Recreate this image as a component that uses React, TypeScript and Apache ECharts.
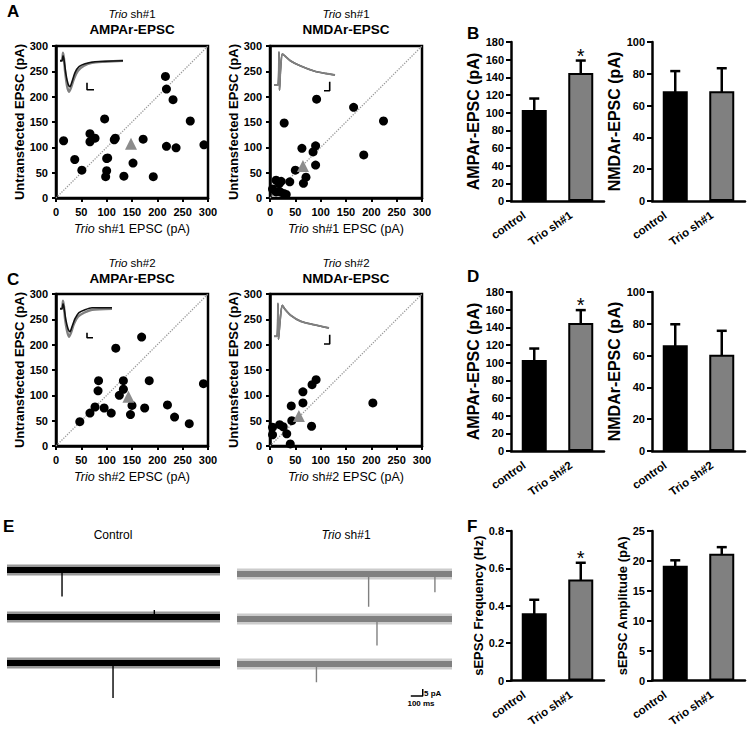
import React, { useEffect, useRef } from 'react';
import * as echarts from 'echarts';

// ---------------- DATA ----------------
// Scatter: [Trio shRNA EPSC (pA), Untransfected EPSC (pA)]
const A_AMPA_PTS = [[15,113],[37,76],[51,55],[67,127],[67,111],[77,118],[96,156],[98,42],[100,78],[100,54],[102,79],[115,115],[117,118],[134,43],[152,69],[172,116],[192,42],[216,240],[218,215],[218,102],[231,194],[237,99],[265,152],[292,105]];
const A_AMPA_MEAN = [148, 107];
const A_NMDA_PTS = [[5,18],[12,35],[18,28],[22,33],[12,12],[20,12],[27,9],[32,7],[28,148],[39,32],[50,55],[63,98],[66,29],[71,41],[85,91],[90,103],[90,65],[92,195],[165,179],[185,85],[224,152]];
const A_NMDA_MEAN = [65, 63];
const C_AMPA_PTS = [[47,48],[67,65],[77,77],[84,129],[83,109],[95,75],[109,65],[118,193],[125,100],[133,129],[133,112],[147,62],[150,80],[169,215],[175,75],[184,129],[220,81],[234,57],[263,44],[291,123]];
const C_AMPA_MEAN = [143, 97];
const C_NMDA_PTS = [[5,37],[5,22],[19,42],[26,38],[33,24],[40,4],[42,79],[43,50],[65,107],[65,85],[83,121],[91,131],[82,39],[203,85]];
const C_NMDA_MEAN = [57, 59];

// Inset example traces [ms, pA]
const AMPA_INSET_GRAY = [[0,0],[2,0],[3,8],[4,2],[5,-10],[7,-25],[9,-31],[11,-27],[14,-18],[18,-10],[24,-5],[32,-2],[45,-1],[63,0]];
const AMPA_INSET_BLACK = [[0,0],[2,0],[3,5],[4,1],[6,-14],[8,-23],[10,-26],[12,-21],[15,-12],[19,-6],[25,-3],[35,-1],[63,0]];
const AMPA_SCALE = [[27,-22],[27,-29],[34,-29]];
const C_AMPA_INSET_GRAY = [[0,0],[2,0],[3,8],[4,2],[5,-10],[7,-22],[9,-28],[11,-24],[14,-15],[18,-8],[24,-4],[32,-1],[52,0]];
const C_AMPA_INSET_BLACK = [[0,0],[2,0],[3,5],[4,1],[6,-12],[8,-20],[10,-23],[12,-18],[15,-10],[19,-4],[25,-1],[32,1],[52,1]];
const C_AMPA_SCALE = [[27,-24],[27,-29],[33,-29]];
const NMDA_INSET_A = [[0,0],[4,0],[5,33],[5.5,-5],[6.5,15],[8.3,31],[11,29],[16.7,24],[26.7,19],[40,14],[52,11.5],[61,10]];
const NMDA_SCALE_A = [[50,-5.7],[55.7,-5.7],[55.7,3.3]];
const NMDA_INSET_C = [[0,0],[3,0],[4,33],[4.5,-3],[6,15],[8.3,31],[11,27],[16.7,21],[26.7,15],[40,11.6],[55,8.3]];
const NMDA_SCALE_C = [[50,-7.7],[55.7,-7.7],[55.7,1.6]];

// Bars
const CATS_1 = ['control', 'Trio sh#1'];
const CATS_2 = ['control', 'Trio sh#2'];
const B_AMPA_MEAN = [103, 145]; const B_AMPA_SEM = [13, 14];
const B_NMDA_MEAN = [69, 69];   const B_NMDA_SEM = [12.7, 14.5];
const D_AMPA_MEAN = [103, 145]; const D_AMPA_SEM = [13, 14.5];
const D_NMDA_MEAN = [66.5, 60.6]; const D_NMDA_SEM = [13.2, 15];
const F_FREQ_MEAN = [0.36, 0.54]; const F_FREQ_SEM = [0.072, 0.09];
const F_AMP_MEAN = [19.2, 21.2];  const F_AMP_SEM = [0.9, 1.1];
const SIG_AMPA = [false, true];
const SIG_NMDA = [false, false];

// sEPSC traces: spikes [row, time ms, amplitude pA]
const TRACE_LEN_MS = 1800;
const CTRL_SPIKES = [[0, 465, 19], [1, 1245, -5], [2, 896, 25]];
const TRIO_SPIKES = [[0, 1102, 23.5], [0, 1657, 13], [1, 1172, 19], [2, 665, 13]];
const SCALE_BAR = [[1455, -104.3], [1555, -104.3], [1555, -99.3]];

// ---------------- LAYOUT / STYLE ----------------
const CTRL_OFFSET = [-14.3, -47.9, -80.7];
const TRIO_OFFSET = [-17.1, -49.3, -81.4];
const FN = '"Liberation Sans Narrow","Liberation Sans",Arial,sans-serif';
const FS = '"Liberation Sans",Arial,sans-serif';
const GRAY = '#808080';

function buildOption() {
  const grids: any[] = [], xAxes: any[] = [], yAxes: any[] = [], series: any[] = [];
  const add = (g: any, xa: any, ya: any) => {
    const i = grids.length;
    grids.push(g);
    xAxes.push({ ...xa, gridIndex: i });
    yAxes.push({ ...ya, gridIndex: i });
    return i;
  };
  const tickLabel = { color: '#000', fontSize: 11, fontWeight: 'bold', fontFamily: FN };
  const hidden = { show: false };

  const scatter = (left: number, top: number, sh: string, pts: number[][], mean: number[]) => {
    const ax = {
      type: 'value', min: 0, max: 300, interval: 50, splitLine: hidden,
      axisLine: { show: true, lineStyle: { color: '#000', width: 2.5 } },
      axisTick: { show: true, length: 4, lineStyle: { color: '#000', width: 2 } },
    };
    const i = add(
      { left, top, width: 152, height: 152, show: true, borderColor: '#000', borderWidth: 2.5 },
      { ...ax, axisLabel: { ...tickLabel, margin: 8 }, name: `{i|Trio} ${sh} EPSC (pA)`, nameLocation: 'middle', nameGap: 24,
        nameTextStyle: { color: '#000', fontSize: 12.5, fontFamily: FN, rich: { i: { fontStyle: 'italic', fontSize: 12.5, fontFamily: FN, color: '#000' } } } },
      { ...ax, axisLabel: { ...tickLabel, margin: 8 }, name: 'Untransfected EPSC (pA)', nameLocation: 'middle', nameGap: 27,
        nameTextStyle: { color: '#000', fontSize: 13, fontWeight: 'bold', fontFamily: FN } }
    );
    series.push({ type: 'line', xAxisIndex: i, yAxisIndex: i, data: [[0, 0], [300, 300]], symbol: 'none', silent: true, z: 1,
      lineStyle: { type: 'dotted', color: '#9a9a9a', width: 1.3 } });
    series.push({ type: 'scatter', xAxisIndex: i, yAxisIndex: i, data: pts, symbolSize: 9, z: 4, itemStyle: { color: '#000', opacity: 1 } });
    series.push({ type: 'scatter', xAxisIndex: i, yAxisIndex: i, data: [mean], symbol: 'triangle', symbolSize: 12, z: 5, itemStyle: { color: '#8c8c8c', opacity: 1 } });
  };

  const inset = (left: number, top: number, w: number, ymin: number, ymax: number, traces: { d: number[][]; c: string; w: number }[], scale: number[][]) => {
    const i = add(
      { left, top, width: w, height: ymax - ymin },
      { type: 'value', min: 0, max: w, show: false },
      { type: 'value', min: ymin, max: ymax, show: false }
    );
    traces.forEach((t) => series.push({ type: 'line', xAxisIndex: i, yAxisIndex: i, data: t.d, symbol: 'none', smooth: 0.25, silent: true,
      lineStyle: { color: t.c, width: t.w } }));
    series.push({ type: 'line', xAxisIndex: i, yAxisIndex: i, data: scale, symbol: 'none', silent: true, lineStyle: { color: '#000', width: 1.6 } });
  };

  const bars = (left: number, top: number, height: number, cats: string[], means: number[], sems: number[], sig: boolean[], max: number, interval: number, name: string, nameGap: number, nameSize: number) => {
    const i = add(
      { left, top, width: 93, height },
      { type: 'category', data: cats, axisTick: hidden, axisLine: { lineStyle: { color: '#000', width: 2.5 } },
        axisLabel: { color: '#000', fontSize: 11.5, fontWeight: 'bold', fontFamily: FS, rotate: 35, margin: 6, padding: [0, 12, 0, 0] } },
      { type: 'value', min: 0, max, interval, splitLine: hidden, name, nameLocation: 'middle', nameGap,
        nameTextStyle: { color: '#000', fontSize: nameSize, fontWeight: 'bold', fontFamily: FS },
        axisLine: { show: true, lineStyle: { color: '#000', width: 2.5 } },
        axisTick: { show: true, length: 5, lineStyle: { color: '#000', width: 2 } },
        axisLabel: { ...tickLabel, margin: 7 } }
    );
    series.push({ type: 'bar', xAxisIndex: i, yAxisIndex: i, barWidth: 25,
      data: means.map((v, k) => ({ value: v, itemStyle: { color: k === 0 ? '#000' : GRAY, borderColor: '#000', borderWidth: 2 } })) });
    series.push({ type: 'custom', xAxisIndex: i, yAxisIndex: i, silent: true,
      data: means.map((v, k) => [k, v, sems[k], sig[k] ? 1 : 0]),
      encode: { x: 0, y: 1 },
      renderItem: (_p: any, api: any) => {
        const k = api.value(0), m = api.value(1), e = api.value(2), s = api.value(3);
        const hi = api.coord([k, m + e]);
        const lo = api.coord([k, m - e]);
        const cw = 5;
        const st = { stroke: '#000', lineWidth: 2.5 };
        const ch: any[] = [
          { type: 'line', shape: { x1: hi[0], y1: hi[1], x2: lo[0], y2: lo[1] }, style: st },
          { type: 'line', shape: { x1: hi[0] - cw, y1: hi[1], x2: hi[0] + cw, y2: hi[1] }, style: st },
          { type: 'line', shape: { x1: lo[0] - cw, y1: lo[1], x2: lo[0] + cw, y2: lo[1] }, style: st },
        ];
        if (s) ch.push({ type: 'text', x: hi[0], y: hi[1] - 15, style: { text: '*', fill: '#000', fontSize: 20, fontFamily: FS, align: 'center', verticalAlign: 'top' } });
        return { type: 'group', children: ch };
      } });
  };

  const traces = (left: number, width: number, offs: number[], spikes: number[][], color: string, withScale: boolean) => {
    const i = add(
      { left, top: 550, width, height: 168 },
      { type: 'value', min: 0, max: TRACE_LEN_MS, show: false },
      { type: 'value', min: -120, max: 0, show: false }
    );
    offs.forEach((o) => {
      series.push({ type: 'line', xAxisIndex: i, yAxisIndex: i, symbol: 'none', silent: true, data: [[0, o], [TRACE_LEN_MS, o]],
        lineStyle: { color, width: 11, opacity: 0.4 } });
      series.push({ type: 'line', xAxisIndex: i, yAxisIndex: i, symbol: 'none', silent: true, data: [[0, o], [TRACE_LEN_MS, o]],
        lineStyle: { color, width: 6 } });
    });
    spikes.forEach(([r, t, a]) => {
      series.push({ type: 'line', xAxisIndex: i, yAxisIndex: i, symbol: 'none', silent: true, data: [[t, offs[r]], [t, offs[r] - a]],
        lineStyle: { color, width: 1.4 } });
    });
    if (withScale) series.push({ type: 'line', xAxisIndex: i, yAxisIndex: i, symbol: 'none', silent: true, data: SCALE_BAR,
      lineStyle: { color: '#000', width: 1.5 } });
  };

  // Panels A & C scatter
  scatter(56, 46, 'sh#1', A_AMPA_PTS, A_AMPA_MEAN);
  scatter(270, 46, 'sh#1', A_NMDA_PTS, A_NMDA_MEAN);
  scatter(56, 294, 'sh#2', C_AMPA_PTS, C_AMPA_MEAN);
  scatter(270, 294, 'sh#2', C_NMDA_PTS, C_NMDA_MEAN);
  // insets
  inset(60, 50.7, 63, -40, 10, [{ d: AMPA_INSET_GRAY, c: GRAY, w: 2.4 }, { d: AMPA_INSET_BLACK, c: '#111', w: 1.6 }], AMPA_SCALE);
  inset(274, 45, 63, -15, 40, [{ d: NMDA_INSET_A, c: '#333', w: 1.6 }, { d: NMDA_INSET_A, c: GRAY, w: 1.8 }], NMDA_SCALE_A);
  inset(60, 298.7, 52, -40, 10, [{ d: C_AMPA_INSET_GRAY, c: GRAY, w: 2.4 }, { d: C_AMPA_INSET_BLACK, c: '#111', w: 1.6 }], C_AMPA_SCALE);
  inset(274, 296.3, 63, -15, 40, [{ d: NMDA_INSET_C, c: '#333', w: 1.6 }, { d: NMDA_INSET_C, c: GRAY, w: 1.8 }], NMDA_SCALE_C);
  // Panels B, D, F bars
  bars(511, 42, 159, CATS_1, B_AMPA_MEAN, B_AMPA_SEM, SIG_AMPA, 180, 20, 'AMPAr-EPSC (pA)', 21, 16);
  bars(652, 42, 159, CATS_1, B_NMDA_MEAN, B_NMDA_SEM, SIG_NMDA, 100, 20, 'NMDAr-EPSC (pA)', 15, 16);
  bars(511, 292, 159, CATS_2, D_AMPA_MEAN, D_AMPA_SEM, SIG_AMPA, 180, 20, 'AMPAr-EPSC (pA)', 21, 16);
  bars(652, 292, 159, CATS_2, D_NMDA_MEAN, D_NMDA_SEM, SIG_NMDA, 100, 20, 'NMDAr-EPSC (pA)', 15, 16);
  bars(511, 531, 160, CATS_1, F_FREQ_MEAN, F_FREQ_SEM, SIG_AMPA, 0.8, 0.2, 'sEPSC Frequency (Hz)', 22, 13);
  bars(652, 531, 160, CATS_1, F_AMP_MEAN, F_AMP_SEM, SIG_NMDA, 25, 5, 'sEPSC Amplitude (pA)', 16, 13);
  // Panel E traces
  traces(7, 213, CTRL_OFFSET, CTRL_SPIKES, '#000', false);
  traces(237, 215, TRIO_OFFSET, TRIO_SPIKES, GRAY, true);

  const txt = (x: number, y: number, text: string, size: number, weight: string, family = FS, align = 'center', rich?: any) => ({
    type: 'text', x, y, silent: true,
    style: { text, fill: '#000', fontSize: size, fontWeight: weight, fontFamily: family, align, verticalAlign: 'middle', rich },
  });
  const trioRich = (size: number) => ({ i: { fontStyle: 'italic', fontSize: size, fontFamily: FS, fill: '#000' }, n: { fontSize: size, fontFamily: FS, fill: '#000' } });
  const graphic = [
    txt(7, 11, 'A', 17, 'bold', FS, 'left'),
    txt(467, 33, 'B', 17, 'bold', FS, 'left'),
    txt(7, 279, 'C', 17, 'bold', FS, 'left'),
    txt(467, 276, 'D', 17, 'bold', FS, 'left'),
    txt(3, 526, 'E', 17, 'bold', FS, 'left'),
    txt(467, 526, 'F', 17, 'bold', FS, 'left'),
    txt(132, 14, '{i|Trio}{n| sh#1}', 11.5, 'normal', FS, 'center', trioRich(11.5)),
    txt(132, 29, 'AMPAr-EPSC', 13.5, 'bold'),
    txt(346, 14, '{i|Trio}{n| sh#1}', 11.5, 'normal', FS, 'center', trioRich(11.5)),
    txt(346, 29, 'NMDAr-EPSC', 13.5, 'bold'),
    txt(132, 263, '{i|Trio}{n| sh#2}', 11.5, 'normal', FS, 'center', trioRich(11.5)),
    txt(132, 278, 'AMPAr-EPSC', 13.5, 'bold'),
    txt(346, 263, '{i|Trio}{n| sh#2}', 11.5, 'normal', FS, 'center', trioRich(11.5)),
    txt(346, 278, 'NMDAr-EPSC', 13.5, 'bold'),
    txt(113, 535, 'Control', 12, 'normal'),
    txt(346, 535, '{i|Trio}{n| sh#1}', 12, 'normal', FS, 'center', trioRich(12)),
    txt(424, 693, '5 pA', 8, 'bold', FS, 'left'),
    txt(421, 703, '100 ms', 8, 'bold', FS, 'center'),
  ];

  return { animation: false, backgroundColor: '#fff', grid: grids, xAxis: xAxes, yAxis: yAxes, series, graphic };
}

export default function App() {
  const ref = useRef<HTMLDivElement>(null);
  useEffect(() => {
    if (!ref.current) return;
    const chart = echarts.init(ref.current, undefined, { renderer: 'svg' });
    chart.setOption(buildOption());
    return () => chart.dispose();
  }, []);
  return <div ref={ref} style={{ position: 'fixed', left: 0, top: 0, width: 748, height: 729 }} />;
}
